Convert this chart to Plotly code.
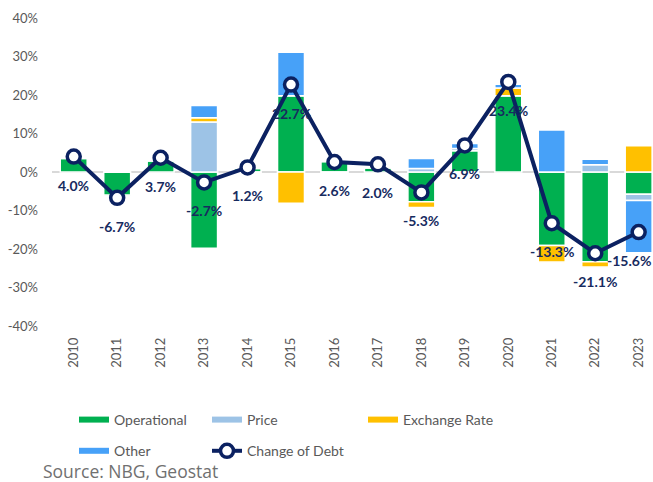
import plotly.graph_objects as go

years = ["2010", "2011", "2012", "2013", "2014", "2015", "2016",
         "2017", "2018", "2019", "2020", "2021", "2022", "2023"]
operational = [3.5, -6.0, 2.9, -19.8, 0.9, 19.8, 2.7, 1.1, -7.7, 5.5, 19.8, -19.1, -23.3, -5.8]
price = [0.4, 0.0, 0.0, 13.0, 0.3, 0.0, 0.0, 0.0, 0.9, 0.6, 0.0, 0.0, 1.9, -1.6]
exchange_rate = [0.0, 0.0, 0.0, 1.1, -0.3, -8.1, -0.4, 0.0, -1.5, -0.4, 2.0, -4.3, -1.4, 6.8]
other = [0.0, 0.0, 0.0, 3.2, 0.3, 11.3, 0.0, 0.0, 2.6, 1.3, 1.0, 10.9, 1.4, -13.6]
change_of_debt = [4.0, -6.7, 3.7, -2.7, 1.2, 22.7, 2.6, 2.0, -5.3, 6.9, 23.4, -13.3, -21.1, -15.6]
y_ticks = [-40, -30, -20, -10, 0, 10, 20, 30, 40]

C_OP = "#00B050"
C_PRICE = "#9DC3E6"
C_EXCH = "#FFC000"
C_OTHER = "#47A1F8"
C_LINE = "#0B2161"
C_LABEL = "#172B5F"
C_TEXT = "#595959"
FONT = "Lato"

fig = go.Figure()

bar_series = [
    ("Operational", operational, C_OP, "legend", 1),
    ("Price", price, C_PRICE, "legend2", 1),
    ("Exchange Rate", exchange_rate, C_EXCH, "legend3", 1),
    ("Other", other, C_OTHER, "legend", 2),
]
for name, vals, col, _, _ in bar_series:
    fig.add_trace(go.Bar(
        x=years, y=vals, name=name, marker=dict(color=col, line=dict(color="white", width=1.5)),
        showlegend=False, hoverinfo="skip"))

fig.add_trace(go.Scatter(
    x=years, y=change_of_debt, name="Change of Debt", mode="lines+markers",
    line=dict(color=C_LINE, width=4),
    marker=dict(size=13, color="white", line=dict(color=C_LINE, width=3.5)),
    legend="legend2", legendgroup="cod", legendrank=2))

# legend entries with thick line swatches
for name, vals, col, leg, rank in bar_series:
    fig.add_trace(go.Scatter(
        x=[years[0]], y=[None], mode="lines", name=name,
        line=dict(color=col, width=6), legend=leg, legendgroup=name,
        legendrank=rank, hoverinfo="skip"))

annotations = []
for i, (yr, v) in enumerate(zip(years, change_of_debt)):
    last = i == len(years) - 1
    annotations.append(dict(
        xref="x", yref="y", x=i, y=v, text=f"<b>{v:.1f}%</b>", showarrow=False,
        yshift=-28.5, xshift=14 if last else 0,
        xanchor="right" if last else "center", yanchor="middle",
        font=dict(family=FONT, size=14, color=C_LABEL)))

annotations.append(dict(
    xref="paper", yref="paper", x=-0.018, y=-0.4708, xanchor="left", yanchor="middle",
    text="Source: NBG, Geostat", showarrow=False,
    font=dict(family="Open Sans", size=17.5, color="#707070")))

leg_common = dict(orientation="v", xref="container", yref="container",
                  xanchor="left", yanchor="top", tracegroupgap=10,
                  bgcolor="rgba(0,0,0,0)",
                  font=dict(family=FONT, size=14, color=C_TEXT))

fig.update_layout(
    width=653, height=482,
    margin=dict(l=52, r=0, t=18, b=156, autoexpand=False),
    plot_bgcolor="white", paper_bgcolor="white",
    barmode="relative", bargap=0.38,
    font=dict(family=FONT, size=13, color=C_TEXT),
    annotations=annotations,
    legend=dict(x=74 / 653, y=1 - 404 / 482, **leg_common),
    legend2=dict(x=207 / 653, y=1 - 404 / 482, **leg_common),
    legend3=dict(x=363 / 653, y=1 - 404 / 482, **leg_common),
    xaxis=dict(type="category", range=[-0.5, 13.33], tickangle=-90,
               showgrid=False, showline=False, ticks="",
               ticklabelstandoff=8,
               tickfont=dict(family=FONT, size=13, color=C_TEXT)),
    yaxis=dict(range=[-40, 40], tickvals=y_ticks, ticktext=[f"{t}%" for t in y_ticks],
               showgrid=False, showline=False, ticks="",
               zeroline=True, zerolinecolor="#D9D9D9", zerolinewidth=2,
               ticklabelstandoff=13,
               tickfont=dict(family=FONT, size=13, color=C_TEXT)),
    showlegend=True,
)

fig.write_html("out.html", config={"displayModeBar": False},
               post_script="document.body.style.margin='0';document.body.style.overflow='hidden';")
